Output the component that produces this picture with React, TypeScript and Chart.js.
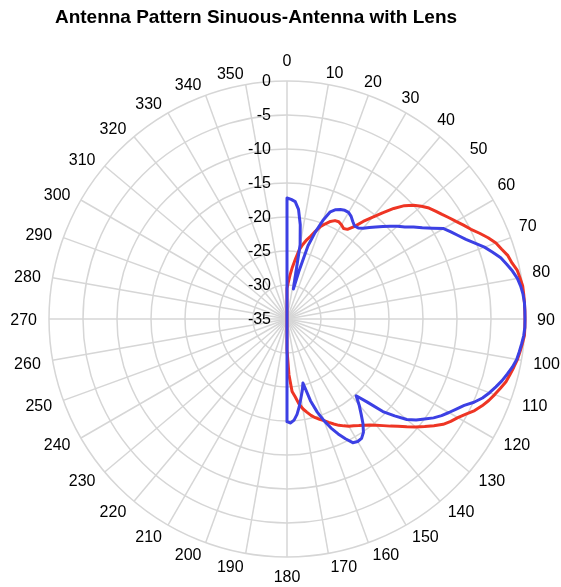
import { useEffect, useRef } from 'react';
import { Chart, registerables } from 'chart.js';

Chart.register(...registerables);

const chartTitle = 'Antenna Pattern Sinuous-Antenna with Lens';

// angular axis: category every 2 degrees round the full circle
const angleStepDeg = 2;
const radarAngles = Array.from({ length: 360 / angleStepDeg }, (_, i) => i * angleStepDeg);
const angleTickLabels = [
  0, 10, 20, 30, 40, 50, 60, 70, 80, 90, 100, 110, 120, 130, 140, 150, 160, 170,
  180, 190, 200, 210, 220, 230, 240, 250, 260, 270, 280, 290, 300, 310, 320, 330, 340, 350,
];

// radial axis (dB)
const radialMin = -35;
const radialMax = 0;
const radialStep = 5;

// measured pattern, 0..180 deg in 2 deg steps (dB)
const redSeries = [
  -30.5, -29.6, -28.5, -27.3, -26.1, -24.7, -23.8, -23.0, -22.3, -21.4,
  -20.5, -19.9, -19.3, -18.9, -18.8, -19.0, -19.3, -19.1, -18.2, -16.8,
  -15.5, -14.0, -12.4, -11.0, -10.0, -9.2, -8.5, -8.0, -7.5, -6.9,
  -6.3, -5.6, -4.9, -4.0, -3.1, -2.3, -1.8, -1.2, -0.9, -0.4,
  -0.2, 0, 0, 0, 0, 0, 0, 0, -0.2, -0.4,
  -0.6, -0.9, -1.2, -1.5, -2.0, -2.5, -3.0, -3.6, -4.3, -5.2,
  -6.0, -6.6, -7.3, -8.3, -9.3, -10.3, -11.3, -12.3, -13.1, -13.9,
  -14.6, -15.2, -15.7, -16.1, -16.5, -16.8, -17.2, -17.6, -18.1, -18.6,
  -19.1, -19.5, -19.9, -20.4, -21.0, -21.6, -22.4, -23.5, -24.3, -26.8,
  -30.5,
];

const blueSeries = [
  -17.2, -17.4, -17.7, -18.8, -21.0, -23.9, -30.5, -27.8, -23.8, -21.6,
  -19.6, -18.0, -17.4, -17.1, -16.9, -16.9, -17.2, -17.7, -18.1, -18.0,
  -17.6, -16.9, -16.2, -15.4, -14.6, -13.8, -13.0, -12.0, -11.0, -9.8,
  -8.4, -7.7, -7.0, -6.2, -5.2, -4.1, -3.2, -2.3, -1.7, -1.1,
  -0.6, -0.3, -0.1, 0, 0, 0, 0, -0.1, -0.3, -0.5,
  -0.7, -1.1, -1.6, -2.1, -2.7, -3.3, -4.0, -4.9, -6.0, -6.8,
  -7.5, -8.2, -9.0, -10.0, -10.9, -12.0, -13.7, -15.4, -18.0, -19.8,
  -18.5, -17.3, -16.0, -14.9, -14.3, -14.2, -14.4, -15.4, -16.5, -17.7,
  -19.1, -20.6, -22.5, -25.3, -24.2, -23.2, -22.0, -20.9, -20.1, -19.7,
  -19.9,
];

const fontFamily = '"Liberation Sans", Arial, Helvetica, sans-serif';
const gridColor = '#d6d6d6';

const isTickAngle = (index: number) => angleTickLabels.includes(radarAngles[index]);

// draws radial tick labels left of the 0-degree spoke and angle labels round the rim,
// positioned through the radial scale
const polarLabels = {
  id: 'polarLabels',
  afterDatasetsDraw(chart: any) {
    const s = chart.scales.r;
    const ctx = chart.ctx;
    ctx.save();
    ctx.font = `16px ${fontFamily}`;
    ctx.fillStyle = '#000';
    ctx.textBaseline = 'middle';

    ctx.textAlign = 'right';
    s.ticks.forEach((t: any) => {
      const d = s.getDistanceFromCenterForValue(t.value);
      ctx.fillText(String(t.value), s.xCenter - 16, s.yCenter - d + 1);
    });

    const rim = s.drawingArea + 12;
    radarAngles.forEach((a, i) => {
      if (!isTickAngle(i)) return;
      const p = s.getPointPosition(i, rim);
      let x = p.x;
      let y = p.y + 2;
      if (a === 0) {
        ctx.textAlign = 'center';
        y = p.y - 7.5;
      } else if (a === 180) {
        ctx.textAlign = 'center';
        y = p.y + 8.5;
      } else {
        ctx.textAlign = a < 180 ? 'left' : 'right';
        if (a < 90) {
          // first-quadrant labels sit slightly counter-clockwise along the rim
          const rad = (a * Math.PI) / 180;
          const nudge = 14 * Math.sin(2 * rad);
          x -= nudge * Math.cos(rad);
          y -= nudge * Math.sin(rad);
        }
      }
      ctx.fillText(String(a), x, y);
    });
    ctx.restore();
  },
};

export default function App() {
  const ref = useRef<HTMLCanvasElement>(null);

  useEffect(() => {
    if (!ref.current) return;
    Chart.defaults.font.family = fontFamily;
    const chart = new Chart(ref.current, {
      type: 'radar',
      data: {
        labels: radarAngles,
        datasets: [
          {
            label: 'Series 2',
            data: blueSeries,
            borderColor: '#3c40e4',
            borderWidth: 3,
            pointRadius: 0,
            fill: false,
            tension: 0,
            spanGaps: true,
          },
          {
            label: 'Series 1',
            data: redSeries,
            borderColor: '#ee3524',
            borderWidth: 3,
            pointRadius: 0,
            fill: false,
            tension: 0,
            spanGaps: true,
          },
        ],
      },
      options: {
        animation: false,
        responsive: true,
        maintainAspectRatio: false,
        layout: { padding: { left: 49, right: 36, top: 81, bottom: 43 } },
        plugins: {
          legend: { display: false },
          tooltip: { enabled: false },
          title: { display: false },
        },
        elements: { line: { borderJoinStyle: 'round', borderCapStyle: 'round' } },
        scales: {
          r: {
            min: radialMin,
            max: radialMax,
            beginAtZero: false,
            ticks: { stepSize: radialStep, display: false },
            grid: { circular: true, color: gridColor, lineWidth: 1.5 },
            angleLines: {
              display: true,
              color: (c: any) => (isTickAngle(c.index) ? gridColor : 'rgba(0,0,0,0)'),
              lineWidth: (c: any) => (isTickAngle(c.index) ? 1.5 : 0),
            },
            pointLabels: { display: false },
          },
        },
      },
      plugins: [polarLabels],
    });
    return () => chart.destroy();
  }, []);

  return (
    <div style={{ position: 'fixed', left: 0, top: 0, width: 561, height: 600 }}>
      <div style={{ position: 'relative', width: 561, height: 600 }}>
        <canvas ref={ref} style={{ display: 'block' }} />
      </div>
      <div
        style={{
          position: 'absolute',
          left: 0,
          top: 6,
          width: 512,
          textAlign: 'center',
          font: `bold 19px ${fontFamily}`,
          lineHeight: '22px',
          color: '#000',
          zIndex: 1,
        }}
      >
        {chartTitle}
      </div>
    </div>
  );
}
